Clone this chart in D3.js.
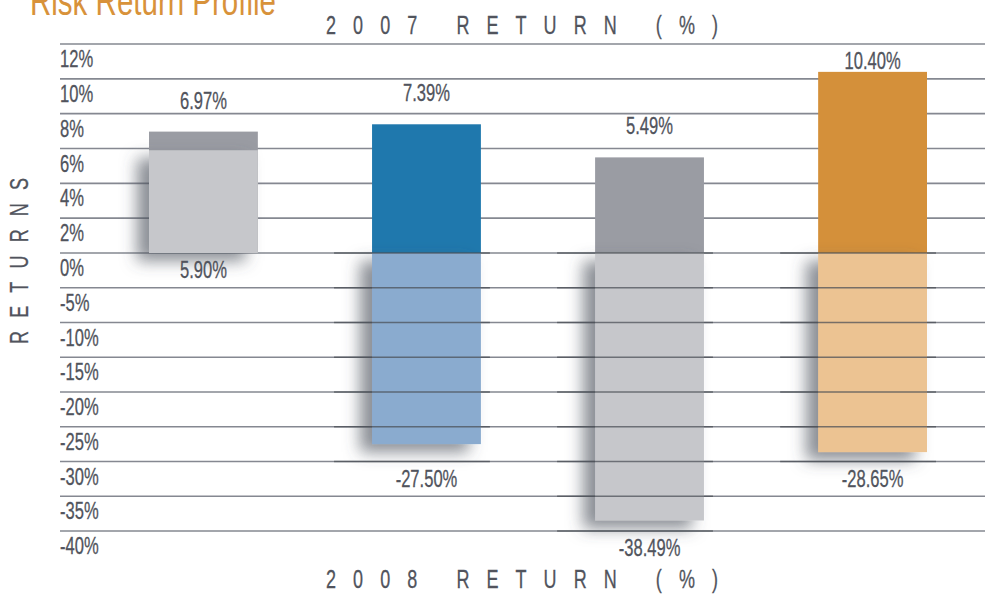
<!DOCTYPE html>
<html>
<head>
<meta charset="utf-8">
<script src="https://cdn.jsdelivr.net/npm/d3@7"></script>
<style>
  html, body { margin: 0; padding: 0; background: #ffffff; }
  svg { display: block; }
</style>
</head>
<body>
<svg id="chart" width="985" height="599"></svg>
<script>
// ---------------- data ----------------
const categories = ["Fund A", "Fund B", "Fund C", "Fund D"];
const returns2007 = [6.97, 7.39, 5.49, 10.40];
const returns2008 = [5.90, -27.50, -38.49, -28.65];
const posTicks = [12, 10, 8, 6, 4, 2, 0];
const negTicks = [-5, -10, -15, -20, -25, -30, -35, -40];
const colors2007 = ["#9a9ca3", "#1f78ad", "#9a9ca3", "#d4903a"];
const colors2008 = ["#c6c7cb", "#8aabcf", "#c6c7cb", "#ecc392"];
const titleText = "Risk Return Profile";
const topAxisTitle = "2007 RETURN (%)";
const bottomAxisTitle = "2008 RETURN (%)";
const yAxisTitle = "RETURNS";

// ---------------- setup ----------------
const svg = d3.select("#chart");
const FONT = "'Liberation Sans', Arial, sans-serif";
const SX = 0.72;           // horizontal condensing of the glyphs
const TEXT = "#51545d";

const y = d3.scaleLinear().domain([-40, 0, 12]).range([531, 253, 44]);
const x = d3.scaleBand().domain(categories).range([149, 927]).paddingInner(0.512).paddingOuter(0);
const allTicks = posTicks.concat(negTicks);

const defs = svg.append("defs");
const f = defs.append("filter").attr("id", "shadow")
  .attr("x", "-60%").attr("y", "-30%").attr("width", "220%").attr("height", "160%");
f.append("feDropShadow").attr("dx", -12).attr("dy", 8).attr("stdDeviation", 8)
  .attr("flood-color", "#4d525c").attr("flood-opacity", 0.65);

function condText(parent, tx, ty, str, size, anchor, fill, rot) {
  const g = parent.append("g")
    .attr("transform", `translate(${tx},${ty})` + (rot ? ` rotate(${rot})` : "") + ` scale(${SX},1)`);
  return g.append("text")
    .attr("x", 0).attr("y", 0)
    .attr("text-anchor", anchor || "start")
    .attr("font-family", FONT)
    .attr("font-size", size)
    .attr("fill", fill || TEXT)
    .attr("stroke", fill || TEXT).attr("stroke-width", 0.3)
    .text(str);
}

// ---------------- title ----------------
svg.append("text")
  .attr("x", 30).attr("y", 15)
  .attr("font-family", FONT).attr("font-size", 40)
  .attr("fill", "#d8923a")
  .attr("textLength", 246).attr("lengthAdjust", "spacingAndGlyphs")
  .text(titleText);

// ---------------- gridlines ----------------
svg.append("g").selectAll("line").data(allTicks).join("line")
  .attr("x1", 60).attr("x2", 985)
  .attr("y1", d => y(d)).attr("y2", d => y(d))
  .attr("stroke", "#858891").attr("stroke-width", 1.6);

// tick labels (sit under their gridline)
const tickG = svg.append("g");
allTicks.forEach(t => condText(tickG, 60, y(t) + 23, t + "%", 23, "start"));

// ---------------- 2007 bars ----------------
svg.append("g").selectAll("rect").data(categories).join("rect")
  .attr("x", d => x(d))
  .attr("width", x.bandwidth())
  .attr("y", (d, i) => y(Math.max(0, returns2007[i])))
  .attr("height", (d, i) => Math.abs(y(returns2007[i]) - y(0)))
  .attr("fill", (d, i) => colors2007[i]);

// ---------------- 2008 bars ----------------
svg.append("g").selectAll("rect").data(categories).join("rect")
  .attr("x", d => x(d))
  .attr("width", x.bandwidth())
  .attr("y", (d, i) => y(Math.max(0, returns2008[i])))
  .attr("height", (d, i) => Math.abs(y(returns2008[i]) - y(0)))
  .attr("fill", (d, i) => colors2008[i])
  .attr("filter", "url(#shadow)");

// gridlines passing over the negative bars (darker, with shadow extent)
const over = svg.append("g");
categories.forEach((c, i) => {
  const v = returns2008[i];
  if (v >= 0) return;
  const lowest = Math.floor(v / 5) * 5;
  const ticks = [0].concat(negTicks.filter(t => t >= lowest));
  over.selectAll(null).data(ticks).join("line")
    .attr("x1", x(c) - 38).attr("x2", x(c) + x.bandwidth() + 9)
    .attr("y1", t => y(t)).attr("y2", t => y(t))
    .attr("stroke", "#4a4d55").attr("stroke-opacity", 0.72).attr("stroke-width", 1.6);
});

// ---------------- value labels ----------------
const lab = svg.append("g");
categories.forEach((c, i) => {
  const cx = x(c) + x.bandwidth() / 2;
  const v7 = returns2007[i];
  const by7 = Math.max(y(v7) - 23, y(posTicks[0]) + 25);
  condText(lab, cx, by7, v7.toFixed(2) + "%", 23, "middle");
  const v8 = returns2008[i];
  const end = Math.min(v8, 0);
  const tk = Math.floor(end / 5) * 5;
  condText(lab, cx, y(tk) + 25, v8.toFixed(2) + "%", 23, "middle");
});

// ---------------- axis titles ----------------
svg.append("g").attr("transform", `translate(326,34) scale(${SX},1)`)
  .append("text").attr("font-family", FONT).attr("font-size", 25).attr("fill", TEXT)
  .attr("stroke", TEXT).attr("stroke-width", 0.3)
  .attr("textLength", 392 / SX).attr("lengthAdjust", "spacing")
  .text(topAxisTitle);

svg.append("g").attr("transform", `translate(326,588) scale(${SX},1)`)
  .append("text").attr("font-family", FONT).attr("font-size", 25).attr("fill", TEXT)
  .attr("stroke", TEXT).attr("stroke-width", 0.3)
  .attr("textLength", 392 / SX).attr("lengthAdjust", "spacing")
  .text(bottomAxisTitle);

svg.append("g").attr("transform", `translate(28,344) rotate(-90) scale(${SX},1)`)
  .append("text").attr("font-family", FONT).attr("font-size", 25).attr("fill", TEXT)
  .attr("stroke", TEXT).attr("stroke-width", 0.3)
  .attr("textLength", 166 / SX).attr("lengthAdjust", "spacing")
  .text(yAxisTitle);
</script>
</body>
</html>
